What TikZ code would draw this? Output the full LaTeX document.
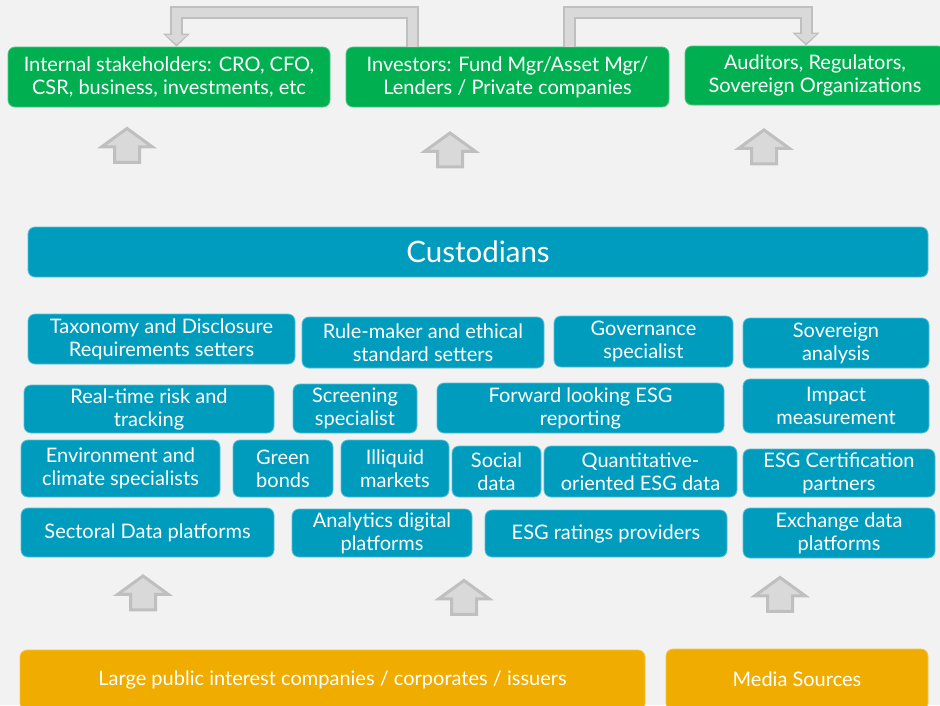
\documentclass[tikz,border=0pt]{standalone}
\usepackage{fontspec}
\setmainfont{Lato}
\usetikzlibrary{shapes,arrows.meta}

\definecolor{bggray}{HTML}{F2F2F2}
\definecolor{stakegreen}{HTML}{00B050}
\definecolor{datateal}{HTML}{009CBE}
\definecolor{srcorange}{HTML}{F0AD00}
\definecolor{arrowedge}{HTML}{BFBFBF}
\definecolor{arrowfill}{HTML}{D9D9D9}

\begin{document}
\begin{tikzpicture}[x=1pt,y=-1pt,
		box/.style={rounded corners=7pt, text=white, align=center, inner sep=1pt, line width=0.8pt, font=\fontsize{20}{23}\selectfont},
		greenbox/.style={box, fill=stakegreen, draw=stakegreen!70!white},
		tealbox/.style={box, fill=datateal, draw=datateal!65!white},
		orangebox/.style={box, fill=srcorange, draw=srcorange!70!white},
		uparrow/.style={single arrow, rotate=90, fill=arrowfill, draw=arrowedge, line width=3pt, inner xsep=0pt, inner ysep=11pt,
			minimum height=34, single arrow head extend=13, single arrow tip angle=108},
		fatline/.style={draw=arrowfill, line width=9pt, -{Triangle[width=21pt,length=9pt,line width=0pt]}, shorten >=2.5pt,
			preaction={draw=arrowedge, line width=13pt, shorten >=0pt, -{Triangle[width=27pt,length=13pt,line width=0pt]}}}]
		\useasboundingbox (0,0) rectangle (940,705);
		\fill[bggray] (0,0) rectangle (940,705);
		\clip (0,0) rectangle (940,705);

		% users of the data
		\node[greenbox, minimum width=322, minimum height=60] (int) at (169,77) {Internal stakeholders: CRO, CFO,\\CSR, business, investments, etc};
		\node[greenbox, minimum width=323, minimum height=60] (inv) at (507.5,77) {Investors: Fund Mgr/Asset Mgr/\\Lenders / Private companies};
		\node[greenbox, minimum width=260, minimum height=59] (aud) at (815,75.5) {Auditors, Regulators,\\Sovereign Organizations};

		% investors feed the other users
		\coordinate (stemL) at (412.5,0);
		\coordinate (stemR) at (569.5,0);
		\coordinate (topL) at (176.5,12.5);
		\coordinate (topR) at (806,12.5);
		\draw[fatline] (stemL |- inv.north) |- (topL) -- (topL |- int.north);
		\draw[fatline] (stemR |- inv.north) |- (topR) -- (topR |- aud.north);

		\node[uparrow] (up1) at (127,150) {};
		\node[uparrow] (up2) at (450,154.5) {};
		\node[uparrow] (up3) at (764,151.5) {};

		\node[tealbox, minimum width=900, minimum height=50, font=\fontsize{29.5}{32}\selectfont] (cust) at (478,252) {Custodians};

		% data providers
		\node[tealbox, minimum width=267, minimum height=50] (tax) at (161.5,339) {Taxonomy and Disclosure\\Requirements setters};
		\node[tealbox, minimum width=242, minimum height=51] (rule) at (423,342.5) {Rule-maker and ethical\\standard setters};
		\node[tealbox, minimum width=179, minimum height=51] (gov) at (643.5,341.5) {Governance\\specialist};
		\node[tealbox, minimum width=186, minimum height=50] (sov) at (836,343) {Sovereign\\analysis};

		\node[tealbox, minimum width=250, minimum height=48] (risk) at (149,409) {Real-time risk and\\tracking};
		\node[tealbox, minimum width=124, minimum height=49] (scr) at (355,408.5) {Screening\\specialist};
		\node[tealbox, minimum width=287, minimum height=50] (fwd) at (580.5,408) {Forward looking ESG\\reporting};
		\node[tealbox, minimum width=186, minimum height=54] (imp) at (836,406) {Impact\\measurement};

		\node[tealbox, minimum width=199, minimum height=57] (env) at (120.5,468.5) {Environment and\\climate specialists};
		\node[tealbox, minimum width=100, minimum height=57] (grn) at (283,468.5) {Green\\bonds};
		\node[tealbox, minimum width=108, minimum height=57] (ill) at (395,468.5) {Illiquid\\markets};
		\node[tealbox, minimum width=89, minimum height=51] (soc) at (496.5,471.5) {Social\\data};
		\node[tealbox, minimum width=193, minimum height=51] (qnt) at (640.5,471.5) {Quantitative-\\oriented ESG data};
		\node[tealbox, minimum width=192, minimum height=48] (cert) at (839,473) {ESG Certification\\partners};

		\node[tealbox, minimum width=253, minimum height=49] (sec) at (147.5,532.5) {Sectoral Data platforms};
		\node[tealbox, minimum width=180, minimum height=48] (ana) at (382,533) {Analytics digital\\platforms};
		\node[tealbox, minimum width=242, minimum height=47] (rat) at (606,533.5) {ESG ratings providers};
		\node[tealbox, minimum width=192, minimum height=50] (exch) at (839,533) {Exchange data\\platforms};

		\node[uparrow] (up4) at (143,597.5) {};
		\node[uparrow] (up5) at (464,602) {};
		\node[uparrow] (up6) at (780,599) {};

		% sources
		\node[orangebox, minimum width=625, minimum height=60] (corp) at (332.5,680) {Large public interest companies / corporates / issuers};
		\node[orangebox, minimum width=262, minimum height=61] (media) at (797,679.5) {Media Sources};
\end{tikzpicture}
\end{document}
